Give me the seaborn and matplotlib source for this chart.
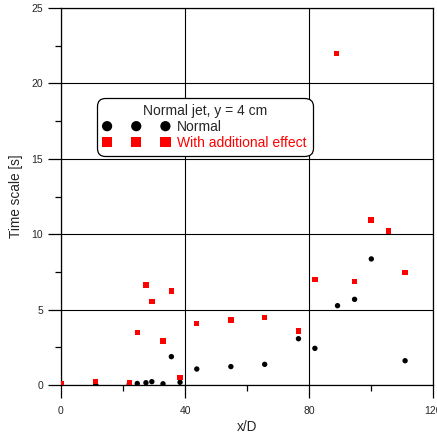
import matplotlib
matplotlib.use("Agg")
import matplotlib.pyplot as plt
import seaborn as sns
import pandas as pd
from matplotlib.ticker import MultipleLocator

# Data
x_normal = [0, 11.2, 22, 24.6, 27.4, 29.3, 32.9, 35.6, 38.4, 43.8, 54.8, 65.7, 76.6, 81.9, 89.2, 94.7, 100.1, 111]
y_normal = [0.05, 0.02, 0.05, 0.1, 0.15, 0.22, 0.08, 1.88, 0.18, 1.06, 1.22, 1.37, 3.07, 2.43, 5.26, 5.68, 8.36, 1.61]

x_effect = [0, 11.2, 22, 24.6, 27.4, 29.3, 32.9, 35.6, 38.4, 43.8, 54.8, 65.7, 76.7, 81.9, 88.9, 94.7, 100, 105.6, 111]
y_effect = [0.1, 0.25, 0.15, 3.47, 6.63, 5.53, 2.92, 6.23, 0.49, 4.07, 4.3, 4.46, 3.58, 6.98, 22.0, 6.85, 10.94, 10.2, 7.47]

legend_title = "Normal jet, y = 4 cm"
label_normal = "Normal"
label_effect = "With additional effect"

sns.set_style("white")
plt.rcParams['font.family'] = ['Liberation Sans', 'DejaVu Sans']

fig = plt.figure(figsize=(4.37, 4.34), dpi=100)
ax = fig.add_axes([61/437, 1-385/434, 372/437, 377/434])

df_n = pd.DataFrame({"x": x_normal, "y": y_normal})
df_e = pd.DataFrame({"x": x_effect, "y": y_effect})

sns.scatterplot(data=df_n, x="x", y="y", ax=ax, color="black", marker="o",
                s=15, edgecolor="none", label=label_normal, zorder=3)
sns.scatterplot(data=df_e, x="x", y="y", ax=ax, color="#ff0000", marker="s",
                s=15, edgecolor="none", label=label_effect, zorder=4)

ax.set_xlim(0, 120)
ax.set_ylim(0, 25)
ax.xaxis.set_major_locator(MultipleLocator(40))
ax.xaxis.set_minor_locator(MultipleLocator(20))
ax.yaxis.set_major_locator(MultipleLocator(5))
ax.yaxis.set_minor_locator(MultipleLocator(2.5))
ax.tick_params(which="major", direction="out", length=9.3, width=0.9, color="black",
               labelsize=7.5, bottom=True, left=True)
ax.tick_params(which="minor", direction="out", length=4.5, width=0.9, color="black",
               bottom=True, left=True)
ax.tick_params(axis="x", which="major", pad=6)
ax.tick_params(axis="y", which="major", pad=3.5)
ax.grid(True, which="major", color="black", linewidth=0.8)
for s in ax.spines.values():
    s.set_color("black")
    s.set_linewidth(0.9)

ax.set_xlabel("x/D", fontsize=9.8, labelpad=3)
ax.set_ylabel("Time scale [s]", fontsize=9.8, labelpad=6)

leg = ax.legend(title=legend_title, loc="upper left", bbox_to_anchor=(0.097, 0.761),
                borderaxespad=0, scatterpoints=3, scatteryoffsets=[0.5],
                markerscale=1.9, fontsize=10, title_fontsize=10, frameon=True,
                fancybox=True, framealpha=1, edgecolor="black",
                handlelength=4.8, handletextpad=0.55,
                labelspacing=0.15, borderpad=0.42)
leg.get_frame().set_linewidth(0.9)
leg.get_frame().set_boxstyle("round,pad=0,rounding_size=0.6")
leg.get_texts()[1].set_color("#ff0000")
leg.set_zorder(10)

fig.savefig("out.png", dpi=100)
